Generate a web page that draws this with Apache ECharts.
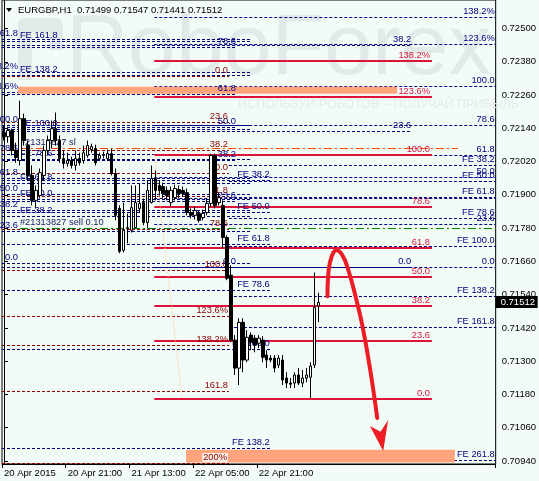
<!DOCTYPE html>
<html><head><meta charset="utf-8">
<script src="https://cdn.jsdelivr.net/npm/echarts@6/dist/echarts.min.js"></script>
<style>html,body{margin:0;padding:0;background:#f3fbf7;}#c{width:539px;height:481px;}</style>
</head><body><div id="c"></div>
<script>
// ---------- DATA ----------
const symbolTitle = 'EURGBP,H1';
const tickLabels = ['20 Apr 2015', '20 Apr 21:00', '21 Apr 13:00', '22 Apr 05:00', '22 Apr 21:00'];
const tickIndex = [0, 16, 32, 48, 64];
const priceTicks = [0.70940, 0.71060, 0.71180, 0.71300, 0.71420, 0.71540, 0.71660, 0.71780, 0.71900, 0.72020, 0.72140, 0.72260, 0.72380, 0.72500];

const opens = [0.72124,0.72110,0.72132,0.72060,0.72024,0.72175,0.72078,0.71970,0.71880,0.71898,
0.71970,0.72060,0.72096,0.72139,0.72096,0.72031,0.72013,0.72024,0.72006,0.72031,
0.72024,0.72042,0.72063,0.72067,0.72031,0.72042,0.72031,0.72049,0.71977,0.71851,
0.71700,0.71779,0.71772,0.71782,0.71851,0.71872,0.71800,0.71872,0.71959,0.71934,
0.71930,0.71916,0.71872,0.71890,0.71919,0.71916,0.71908,0.71836,0.71826,0.71833,
0.71818,0.71836,0.71869,0.72042,0.71872,0.71862,0.71746,0.71610,0.71376,0.71275,
0.71440,0.71304,0.71394,0.71383,0.71365,0.71376,0.71322,0.71311,0.71311,0.71286,
0.71304,0.71239,0.71221,0.71221,0.71250,0.71221,0.71239,0.71242,0.71286,0.71499];
const highs = [0.72150,0.72146,0.72139,0.72088,0.72240,0.72193,0.72096,0.72006,0.71934,0.71995,
0.72078,0.72114,0.72168,0.72197,0.72114,0.72060,0.72052,0.72038,0.72060,0.72052,
0.72078,0.72096,0.72085,0.72081,0.72052,0.72056,0.72063,0.72067,0.71995,0.71862,
0.71872,0.71833,0.71934,0.71934,0.71941,0.71887,0.71952,0.72006,0.71988,0.71952,
0.71944,0.71930,0.71930,0.71937,0.71934,0.71930,0.71923,0.71851,0.71858,0.71844,
0.71847,0.71887,0.72049,0.72049,0.71908,0.71880,0.71754,0.71646,0.71394,0.71455,
0.71455,0.71412,0.71404,0.71394,0.71394,0.71390,0.71340,0.71322,0.71322,0.71322,
0.71322,0.71260,0.71239,0.71260,0.71275,0.71268,0.71275,0.71296,0.71620,0.71547];
const lows = [0.72096,0.72088,0.72042,0.72016,0.72006,0.72078,0.71952,0.71862,0.71851,0.71887,
0.71952,0.72042,0.72067,0.72078,0.72016,0.71995,0.72002,0.71995,0.71988,0.72006,
0.72013,0.72034,0.72052,0.72006,0.72024,0.72031,0.72024,0.71970,0.71808,0.71689,
0.71692,0.71725,0.71764,0.71779,0.71836,0.71790,0.71779,0.71869,0.71880,0.71898,
0.71887,0.71880,0.71858,0.71880,0.71887,0.71894,0.71826,0.71815,0.71811,0.71800,
0.71808,0.71826,0.71858,0.71851,0.71862,0.71707,0.71592,0.71368,0.71250,0.71214,
0.71260,0.71296,0.71340,0.71332,0.71347,0.71296,0.71275,0.71296,0.71260,0.71275,
0.71214,0.71203,0.71203,0.71203,0.71214,0.71206,0.71224,0.71167,0.71275,0.71441];
const closes = [0.72110,0.72132,0.72060,0.72034,0.72175,0.72096,0.71970,0.71880,0.71916,0.71980,
0.72060,0.72096,0.72139,0.72096,0.72031,0.72013,0.72024,0.72006,0.72031,0.72016,
0.72052,0.72078,0.72074,0.72016,0.72042,0.72045,0.72049,0.71977,0.71826,0.71696,
0.71772,0.71782,0.71854,0.71872,0.71869,0.71800,0.71916,0.71959,0.71916,0.71916,
0.71905,0.71898,0.71916,0.71923,0.71905,0.71905,0.71836,0.71826,0.71844,0.71808,
0.71833,0.71869,0.72042,0.71862,0.71890,0.71746,0.71599,0.71376,0.71275,0.71440,
0.71304,0.71386,0.71368,0.71358,0.71383,0.71314,0.71304,0.71304,0.71275,0.71311,
0.71232,0.71221,0.71217,0.71250,0.71221,0.71239,0.71250,0.71282,0.71494,0.71512];

// Fibonacci retracement (crimson, solid)
const retLabels = ['0.0','23.6','38.2','50.0','61.8','78.6','100.0','123.6%','138.2%'];
const retPrices = [0.71163,0.71371,0.71500,0.71604,0.71708,0.71856,0.72045,0.72253,0.72382];
// Fibonacci retracement (maroon, dashed, left)
const ret2Labels = ['0.0','23.6','38.2','50.0','61.8','78.6','100.0','123.6%','138.2%','161.8','200%'];
const ret2Prices = [0.72330,0.72164,0.72062,0.71979,0.71896,0.71778,0.71628,0.71462,0.71360,0.71194,0.70932];
// navy retracement D
const retDLabels = ['0.0','23.6','38.2','50.0','61.8','78.6'];
const retDPrices = [0.71640,0.71878,0.72025,0.72144,0.72263,0.72432];
// navy retracement E
const retELabels = ['0.0','23.6','38.2'];
const retEPrices = [0.71640,0.72132,0.72440];
// navy retracement R (right)
const retRLabels = ['0.0','23.6','','50.0','61.8','78.6','100.0','123.6%','138.2%'];
const retRPrices = [0.71640,0.71794,0.71889,0.71966,0.72043,0.72152,0.72292,0.72446,0.72541];
// navy retracement F (left, labels cut by the edge)
const retFLabels = ['0.0','23.6','38.2','50.0','61.8','78.6','100.0','123.6%','138.2%','161.8'];
const retFPrices = [0.71653,0.71771,0.71844,0.71903,0.71962,0.72046,0.72153,0.72271,0.72344,0.72463];
// Fibonacci expansions
const feLeftLabels = ['FE 38.2','FE 50.0','FE 61.8','FE 78.6','FE 100.0','FE 138.2','FE 161.8'];
const feLeftPrices = [0.71823,0.71884,0.71944,0.72030,0.72139,0.72334,0.72455];
const feMidLabels = ['FE 38.2','FE 50.0','FE 61.8','FE 78.6','FE 100.0','FE 138.2'];
const feMidPrices = [0.71955,0.71838,0.71721,0.71555,0.71343,0.70985];
const feRightLabels = ['FE 38.2','FE 50.0','FE 61.8','FE 78.6','FE 100.0','FE 138.2','FE 161.8','FE 261.8'];
const feRightPrices = [0.72006,0.71950,0.71894,0.71815,0.71714,0.71534,0.71423,0.70942];
// order lines
const slPrice = 0.72070, slLabel = '#21313827 sl';
const entryPrice = 0.71782, entryLabel = '#21313827 sell 0.10';
// zones (bar-index anchors and prices)
const zoneTop = [3.5, 98.75, 0.72265, 0.72290];
const zoneBottom = [45.75, 113.25, 0.70934, 0.70980];
// retracement trend line anchors
const retTrend = [[37.75, 0.72045], [44.75, 0.71163]];
// forecast arrow (bar index, price)
const arrowPath = [[81.25,0.71534],[81.5,0.71620],[82.25,0.71675],[83.5,0.71700],[85,0.71682],[86.5,0.71628],[88.25,0.71537],[90,0.71430],[92,0.71268],[93.75,0.71095]];
const arrowHead = [[91.9,0.71066],[95.25,0.70976],[96.5,0.71088],[94.6,0.71045]];

// object anchors in bar-index units
const A = {x0: 37.75, x1: 107.5};
const B = {x0: -0.5, x1: 56.5};
const D = {x0: -0.5, x1: 58.5};
const E = {x0: -0.5, x1: 102.5};
const R = {x0: 37.75, x1: 123.5};
const F = {x0: -0.5, x1: 62, lab: 3.5};
const H = {x0: -0.5, x1: 62, lab: 4};
const G = {x0: -0.5, x1: 67};
const FR = {x0: 56.5, x1: 123.5};
const NBARS = 124;

// ---------- BUILD ----------
const categories = [];
for (let i = 0; i < NBARS; i++) {
  const h = 5 + i, day = 20 + Math.floor(h / 24), hh = h % 24;
  categories.push(day + ' Apr ' + String(hh).padStart(2, '0') + ':00');
}
const candleData = opens.map((o, i) => [o, closes[i], lows[i], highs[i]]);
const lastClose = closes[closes.length - 1];

const FF = '"Liberation Sans", Arial, sans-serif';
const LFONT = '9.3px ' + FF;
const NAVY = '#000080', MAROON = '#8b0000', CRIMSON = '#dc143c';

function lines(x0, x1, prices, color, width, dash, z) {
  return {
    type: 'custom', xAxisIndex: 1, yAxisIndex: 0, z: z, silent: true, clip: false,
    data: prices.map(p => [x0, x1, p]),
    encode: {x: [0, 1], y: 2},
    renderItem: (params, api) => {
      const a = api.coord([api.value(0), api.value(2)]);
      const b = api.coord([api.value(1), api.value(2)]);
      const y = width % 2 ? Math.round(a[1]) + 0.5 : Math.round(a[1]);
      return {type: 'line', shape: {x1: a[0], y1: y, x2: b[0], y2: y},
        style: {stroke: color, lineWidth: width, lineDash: dash}};
    }
  };
}
function labels(x, prices, texts, color, align, dx, z, bg) {
  return {
    type: 'custom', xAxisIndex: 1, yAxisIndex: 0, z: z, silent: true, clip: false,
    data: prices.map(p => [x, p]),
    encode: {x: 0, y: 1},
    renderItem: (params, api) => {
      const pt = api.coord([api.value(0), api.value(1)]);
      const st = {text: texts[params.dataIndex], fill: color, font: LFONT, align: align, verticalAlign: 'bottom'};
      if (bg && bg[params.dataIndex]) { st.backgroundColor = bg[params.dataIndex]; st.padding = [0, 1]; }
      return {type: 'text', x: pt[0] + dx, y: Math.round(pt[1]) - 1, style: st};
    }
  };
}
function zone(z4, color, z) {
  return {
    type: 'custom', xAxisIndex: 1, yAxisIndex: 0, z: z, silent: true, clip: false,
    data: [z4], encode: {x: [0, 1], y: [2, 3]},
    renderItem: (params, api) => {
      const a = api.coord([api.value(0), api.value(3)]);
      const b = api.coord([api.value(1), api.value(2)]);
      return {type: 'rect', shape: {x: a[0], y: a[1], width: b[0] - a[0], height: b[1] - a[1]}, style: {fill: color}};
    }
  };
}

const DASH = [3, 2], DASHDOT = [8, 3, 2, 3];
const ret2Bg = ret2Labels.map(t => t === '200%' ? '#fbeee7' : null);

const series = [
  lines(F.x0, F.x1, retFPrices, NAVY, 1, DASH, 3),
  lines(H.x0, H.x1, feLeftPrices, NAVY, 1, DASH, 3),
  lines(G.x0, G.x1, feMidPrices, NAVY, 1, DASH, 3),
  lines(D.x0, D.x1, retDPrices, NAVY, 1, DASH, 3),
  lines(E.x0, E.x1, retEPrices, NAVY, 1, DASH, 3),
  lines(R.x0, R.x1, retRPrices, NAVY, 1, DASH, 3),
  lines(FR.x0, FR.x1, feRightPrices, NAVY, 1, DASH, 3),
  lines(B.x0, B.x1, ret2Prices, MAROON, 1, DASH, 3),
  lines(4, 114, [slPrice], '#ff4500', 1, DASHDOT, 3),
  lines(4, 123.5, [entryPrice], '#008000', 1, DASHDOT, 3),
  zone(zoneTop, '#ffa47c', 4),
  zone(zoneBottom, '#ffa47c', 4),
  lines(A.x0, A.x1, retPrices, CRIMSON, 2, null, 5),
  {type: 'line', xAxisIndex: 1, yAxisIndex: 0, z: 5, silent: true, symbol: 'none', data: retTrend,
   lineStyle: {color: '#ffcc99', width: 1, type: 'dotted'}},
  labels(F.lab, retFPrices, retFLabels, NAVY, 'right', 0, 6),
  labels(H.lab, feLeftPrices, feLeftLabels, NAVY, 'left', 0, 6),
  labels(G.x1, feMidPrices, feMidLabels, NAVY, 'right', -1, 6),
  labels(D.x1, retDPrices, retDLabels, NAVY, 'right', -1, 6),
  labels(E.x1, retEPrices, retELabels, NAVY, 'right', -1, 6),
  labels(R.x1, retRPrices, retRLabels, NAVY, 'right', -1, 6),
  labels(FR.x1, feRightPrices, feRightLabels, NAVY, 'right', -1, 6),
  labels(B.x1, ret2Prices, ret2Labels, MAROON, 'right', -1, 6, ret2Bg),
  labels(A.x1, retPrices, retLabels, CRIMSON, 'right', -2, 6),
  labels(4, [slPrice, entryPrice], [slLabel, entryLabel], '#202060', 'left', 0, 6),
  {
    type: 'candlestick', xAxisIndex: 0, yAxisIndex: 0, z: 7, barWidth: 3,
    data: candleData,
    itemStyle: {color: '#ffffff', color0: '#000000', borderColor: '#000000', borderColor0: '#000000', borderWidth: 1}
  },
  // current price marker on the axis
  {
    type: 'custom', xAxisIndex: 1, yAxisIndex: 0, z: 20, silent: true, clip: false,
    data: [[NBARS - 0.5, lastClose]], encode: {x: 0, y: 1},
    renderItem: (params, api) => {
      const pt = api.coord([api.value(0), api.value(1)]);
      const y = Math.round(pt[1]);
      return {type: 'group', children: [
        {type: 'rect', shape: {x: pt[0], y: y - 6, width: 42, height: 12}, style: {fill: '#000'}},
        {type: 'text', x: pt[0] + 5, y: y, style: {text: lastClose.toFixed(5), fill: '#fff', font: '9.5px ' + FF, verticalAlign: 'middle', align: 'left'}}
      ]};
    }
  },
  {type: 'line', xAxisIndex: 1, yAxisIndex: 0, z: 8, silent: true, symbol: 'none', smooth: 0.45,
   data: arrowPath, lineStyle: {color: '#ee1c24', width: 4, cap: 'round'}},
  {type: 'custom', xAxisIndex: 1, yAxisIndex: 0, z: 8, silent: true, clip: false,
   data: [[0]],
   renderItem: (params, api) => ({type: 'polygon', shape: {points: arrowHead.map(p => api.coord(p))}, style: {fill: '#ee1c24'}})}
];

const chart = echarts.init(document.getElementById('c'), null, {renderer: 'canvas'});
chart.setOption({
  animation: false,
  backgroundColor: '#f3fbf7',
  grid: {left: 2, right: 42, top: -1, bottom: 17, show: true, borderColor: '#000', borderWidth: 1, backgroundColor: '#f3fbf7'},
  xAxis: [
    {type: 'category', data: categories, boundaryGap: true,
     axisLine: {show: true, lineStyle: {color: '#000', width: 1}},
     axisTick: {show: true, length: 4, interval: (i) => tickIndex.includes(i), lineStyle: {color: '#000'}},
     axisLabel: {interval: (i) => tickIndex.includes(i), formatter: (v, i) => tickLabels[tickIndex.indexOf(i)] || '',
       align: 'left', color: '#000', fontSize: 9.5, fontFamily: FF, margin: 4},
     splitLine: {show: false}},
    {type: 'value', min: -0.5, max: NBARS - 0.5, show: false}
  ],
  yAxis: {
    type: 'value', position: 'right', min: 0.70929, max: 0.72603, scale: true,
    axisLine: {show: true, lineStyle: {color: '#000'}},
    axisTick: {show: true, length: 4, customValues: priceTicks, lineStyle: {color: '#000'}},
    axisLabel: {customValues: priceTicks, formatter: v => v.toFixed(5), color: '#000', fontSize: 9.5, fontFamily: FF, margin: 6},
    splitLine: {show: false}
  },
  graphic: [
    {type: 'polyline', z: 1, silent: true, shape: {points: [[25, 80], [25, 25], [56, 25], [56, 50]]},
     style: {stroke: '#e2eae9', lineWidth: 14, fill: null, lineJoin: 'round'}},
    {type: 'text', z: 1, silent: true, x: 66, y: 50,
     style: {text: 'RoboForex', font: '86px ' + FF, fill: '#e2eae9', verticalAlign: 'middle'}},
    {type: 'text', z: 1, silent: true, x: 238, y: 105,
     style: {text: 'ИСПОЛЬЗУЙ РОБОТОВ – ПОЛУЧАЙ ПРИБЫЛЬ', font: '12.5px ' + FF, fill: '#e4ebeb', verticalAlign: 'middle'}},
    {type: 'polygon', z: 100, silent: true, shape: {points: [[6, 8], [12, 8], [9, 12]]}, style: {fill: '#000'}},
    {type: 'text', z: 100, silent: true, x: 18, y: 10,
     style: {text: symbolTitle + '  ' + [opens[opens.length-1], highs[highs.length-1], lows[lows.length-1], lastClose].map(v => v.toFixed(5)).join(' '),
       font: '9.5px ' + FF, fill: '#000', verticalAlign: 'middle'}}
  ],
  series: series
});
</script></body></html>
